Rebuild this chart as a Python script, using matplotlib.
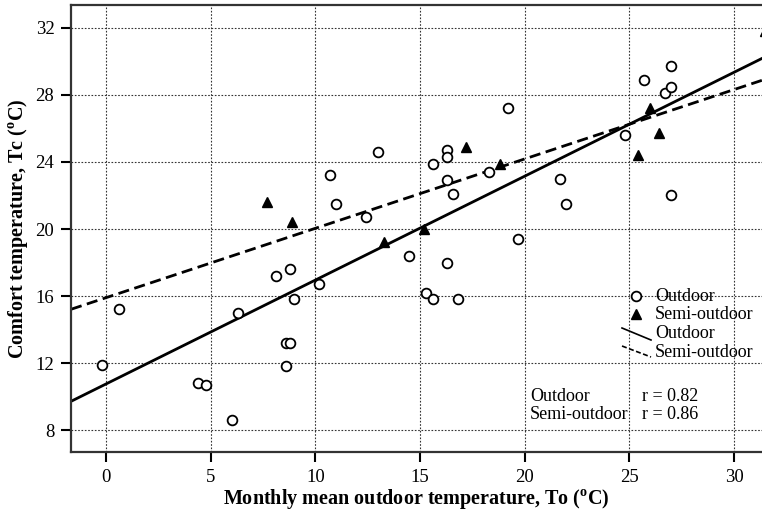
import numpy as np
import matplotlib
matplotlib.use("Agg")
import matplotlib.pyplot as plt

plt.rcParams["font.family"] = ["Liberation Serif", "DejaVu Serif"]
plt.rcParams["mathtext.fontset"] = "custom"
plt.rcParams["mathtext.rm"] = "Liberation Serif"
plt.rcParams["mathtext.bf"] = "Liberation Serif:bold"

# monthly mean outdoor temperature vs comfort temperature
outdoor_to = [-0.2, 0.6, 4.4, 4.8, 6.0, 6.3, 8.1, 8.8, 8.6, 8.8, 8.6, 9.0,
              10.2, 10.7, 11.0, 12.4, 13.0, 14.5, 15.3, 15.6, 16.8, 16.3,
              15.6, 16.3, 16.3, 16.3, 16.6, 18.3, 19.2, 19.7, 21.7, 22.0,
              24.8, 25.7, 26.7, 27.0, 27.0, 27.0]
outdoor_tc = [11.9, 15.2, 10.8, 10.7, 8.6, 15.0, 17.2, 17.6, 13.2, 13.2, 11.8, 15.8,
              16.7, 23.2, 21.5, 20.7, 24.6, 18.4, 16.2, 15.8, 15.8, 18.0,
              23.9, 24.7, 24.3, 22.9, 22.1, 23.4, 27.2, 19.4, 23.0, 21.5,
              25.6, 28.9, 28.1, 29.7, 28.5, 22.0]

semi_to = [7.7, 8.9, 13.3, 15.2, 17.2, 18.8, 25.4, 26.0, 26.4, 31.5]
semi_tc = [21.6, 20.4, 19.2, 20.0, 24.9, 23.9, 24.4, 27.2, 25.7, 31.8]

# regression lines: Tc = slope * To + intercept
outdoor_fit = (0.62, 10.75)
semi_fit = (0.414, 15.9)
outdoor_r = 0.82
semi_r = 0.86

xlim = (-1.67, 31.34)
ylim = (6.69, 33.37)

fig = plt.figure(figsize=(7.62, 5.14), dpi=100)
ax = fig.add_axes([0.0932, 0.1206, 0.9068, 0.8697])

ax.grid(True, linestyle=(0, (1.5, 1.5)), color="#333333", linewidth=0.8)
ax.set_axisbelow(True)

xs = np.array(xlim)
ax.plot(xs, outdoor_fit[0] * xs + outdoor_fit[1], color="black", lw=2.0)
ax.plot(xs, semi_fit[0] * xs + semi_fit[1], color="black", lw=2.0,
        linestyle=(0, (4, 2)))

ax.plot(outdoor_to, outdoor_tc, "o", ms=7, mfc="white", mec="black", mew=1.3)
ax.plot(semi_to, semi_tc, "^", ms=7, color="black")

ax.set_xlim(*xlim)
ax.set_ylim(*ylim)
ax.set_xticks(range(0, 31, 5))
ax.set_yticks(range(8, 33, 4))

for side in ("left", "bottom", "top"):
    ax.spines[side].set_linewidth(1.6)
    ax.spines[side].set_color("#333333")
ax.spines["right"].set_visible(False)
ax.tick_params(direction="out", length=7, width=1.5, labelsize=13.5, pad=5)

ax.set_xlabel(r"Monthly mean outdoor temperature, To ($^{\mathbf{o}}$C)",
              fontsize=14.5, fontweight="bold", labelpad=1)
ax.set_ylabel(r"Comfort temperature, Tc ($^{\mathbf{o}}$C)",
              fontsize=14.5, fontweight="bold", labelpad=4)

# hand-drawn legend with slanted line keys
tr = ax.transAxes
def ax_xy(px, py):
    x0, y0 = 71, 452
    return (px - x0) / (762 - x0), (y0 - py) / (452 - 5)

lx, ly = ax_xy(636, 296)
ax.plot([lx], [ly], "o", ms=7, mfc="white", mec="black", mew=1.3, transform=tr, clip_on=False)
lx, ly = ax_xy(636, 314)
ax.plot([lx], [ly], "^", ms=7, color="black", transform=tr, clip_on=False)
a = ax_xy(622, 328)
b = ax_xy(651, 340)
ax.plot([a[0], b[0]], [a[1], b[1]], color="black", lw=1.2, transform=tr)
a = ax_xy(622, 346)
b = ax_xy(651, 357)
ax.plot([a[0], b[0]], [a[1], b[1]], color="black", lw=1.2,
        linestyle=(0, (3, 1.5)), transform=tr)
for py, label in [(296, "Outdoor"), (314, "Semi-outdoor"),
                  (333, "Outdoor"), (352, "Semi-outdoor")]:
    tx, ty = ax_xy(655, py)
    ax.text(tx, ty, label, transform=tr, fontsize=13, va="center", ha="left")

tx, ty = ax_xy(530, 396)
ax.text(tx, ty, "Outdoor", transform=tr, fontsize=13, va="center")
tx, ty = ax_xy(642, 396)
ax.text(tx, ty, f"r = {outdoor_r:.2f}", transform=tr, fontsize=13, va="center")
tx, ty = ax_xy(530, 414)
ax.text(tx, ty, "Semi-outdoor", transform=tr, fontsize=13, va="center")
tx, ty = ax_xy(642, 414)
ax.text(tx, ty, f"r = {semi_r:.2f}", transform=tr, fontsize=13, va="center")

fig.savefig("out.png", dpi=100)
